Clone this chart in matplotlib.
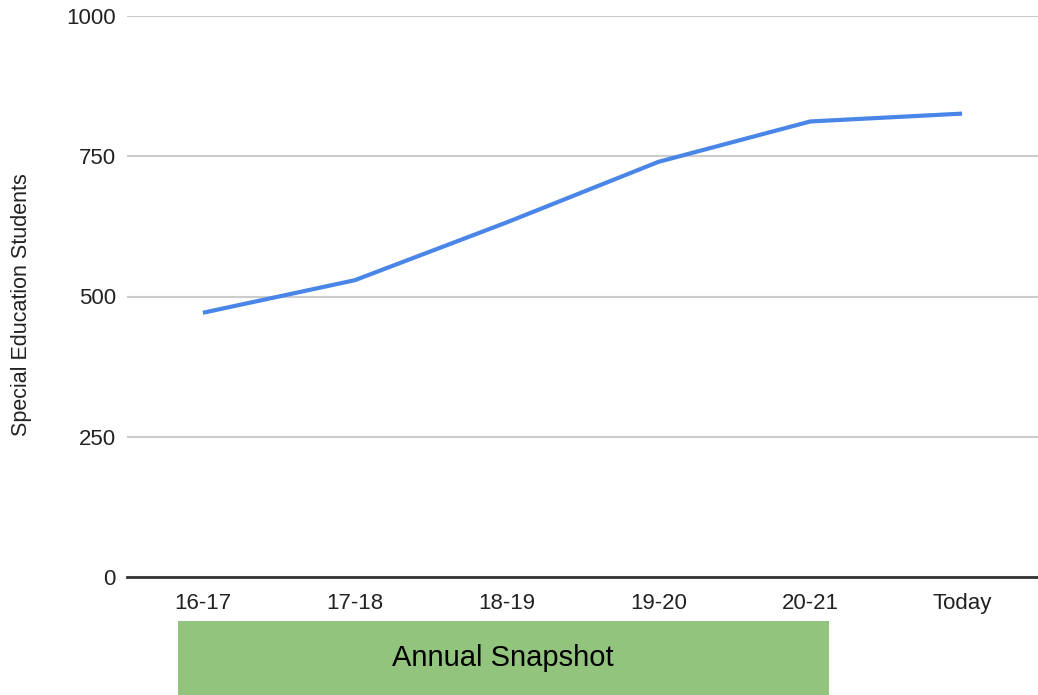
import matplotlib.pyplot as plt
from matplotlib.patches import Rectangle

# Special education enrolment by school year
years = ['16-17', '17-18', '18-19', '19-20', '20-21', 'Today']
students = [471, 529, 632, 740, 812, 826]
y_ticks = [0, 250, 500, 750, 1000]

plt.rcParams['font.family'] = ['Liberation Sans', 'DejaVu Sans']

fig = plt.figure(figsize=(10.38, 6.95), dpi=100)
ax = fig.add_axes([127 / 1038, 1 - 577 / 695, 911 / 1038, 561 / 695])

ax.plot(range(len(years)), students, color='#4a86e8', linewidth=3, solid_capstyle='butt')

ax.set_xlim(-0.5, len(years) - 0.5)
ax.set_ylim(0, 1000)
ax.set_yticks(y_ticks)
ax.set_xticks(range(len(years)))
ax.set_xticklabels(years)
ax.grid(axis='y', color='#cccccc', linewidth=1.5)
ax.set_axisbelow(True)

for side in ('top', 'right', 'left'):
    ax.spines[side].set_visible(False)
ax.spines['bottom'].set_color('#333333')
ax.spines['bottom'].set_linewidth(2)
ax.spines['bottom'].set_zorder(3)
ax.tick_params(axis='both', length=0, labelsize=16, colors='#222222')
ax.tick_params(axis='x', pad=11.5)
ax.tick_params(axis='y', pad=8)

fig.text(22 / 1038, 1 - 305 / 695, 'Special Education Students', rotation=90,
         ha='center', va='center', fontsize=15.5, color='#222222')

# green banner under the yearly snapshot columns
fig.patches.append(Rectangle((178 / 1038, 0), (829 - 178) / 1038, 74 / 695,
                             transform=fig.transFigure, facecolor='#93c47d',
                             edgecolor='none'))
fig.text(503 / 1038, 1 - 658 / 695, 'Annual Snapshot', ha='center', va='center',
         fontsize=21, color='#000000')

fig.savefig('out.png', dpi=100)
